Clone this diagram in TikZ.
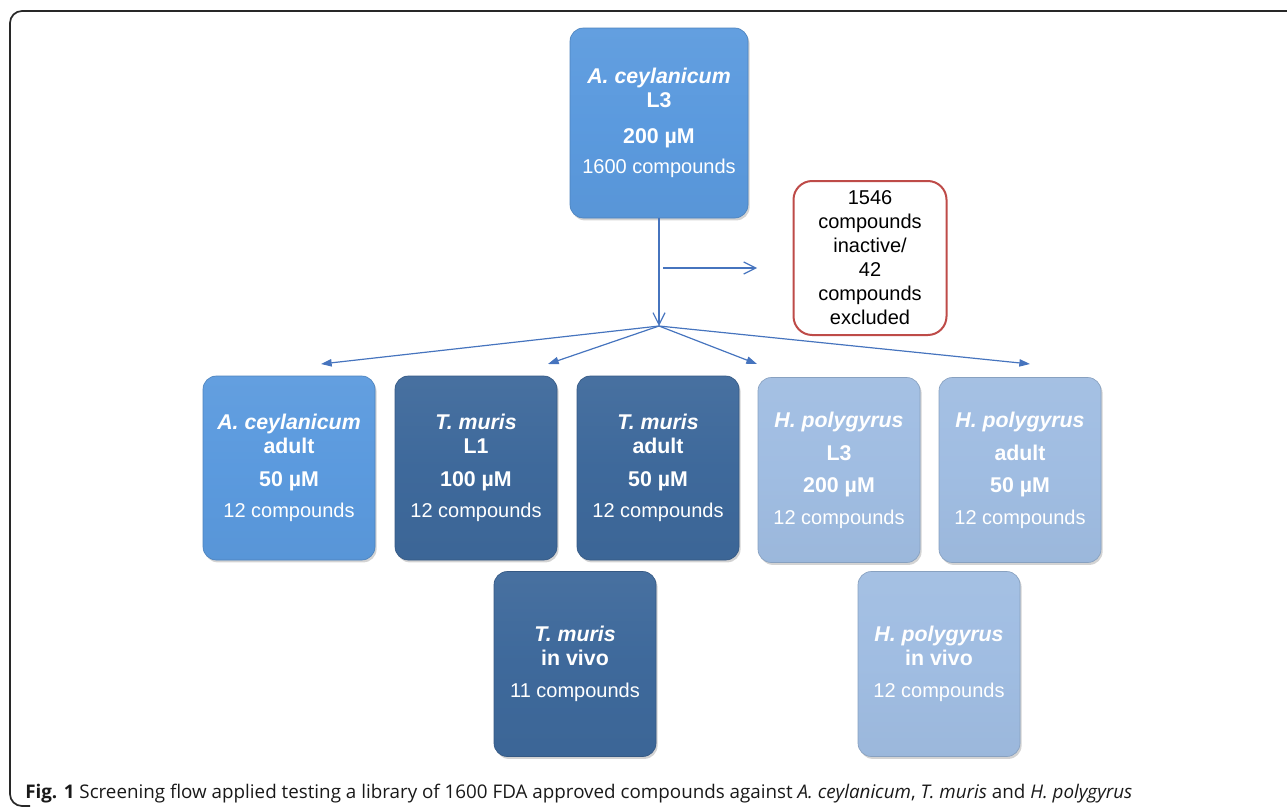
\documentclass[tikz,border=0pt]{standalone}
\usepackage{fontspec}
\setmainfont{Liberation Sans}
\newfontfamily\captionfont{Open Sans}
\usetikzlibrary{arrows.meta, shadows}

\definecolor{lightblue}{RGB}{91,154,222}
\definecolor{darkblue}{RGB}{62,105,155}
\definecolor{paleblue}{RGB}{160,189,226}
\definecolor{exclred}{RGB}{190,75,72}
\definecolor{arrowblue}{RGB}{70,116,190}
\definecolor{framegray}{RGB}{40,40,40}

\newcommand{\speciesname}[1]{{\fontsize{16}{18}\selectfont\bfseries\itshape #1}}
\newcommand{\stageline}[1]{{\fontsize{16}{18}\selectfont\bfseries #1}}

\begin{document}
\begin{tikzpicture}[
        x=0.75pt, y=-0.75pt,
        stagebox/.style={rounded corners=10pt, minimum width=121.5pt, minimum height=138.75pt, draw=#1!85!black, line width=0.5pt, top color=#1!95!white, bottom color=#1!97!black, middle color=#1, drop shadow={shadow xshift=1.2pt, shadow yshift=-1.8pt, opacity=0.35}, align=center, text=white, font=\fontsize{15}{18}\selectfont},
        exclbox/.style={draw=exclred, line width=1.5pt, rounded corners=14pt, fill=white, minimum width=114.75pt, minimum height=115.5pt, align=center, font=\fontsize{15}{18}\selectfont},
        flow/.style={draw=arrowblue, line width=0.9pt, -{Straight Barb[length=9pt,width=9pt]}},
        fan/.style={draw=arrowblue, line width=0.9pt, -{Triangle[length=8pt,width=5.5pt]}},
        frame/.style={draw=framegray, line width=1.3pt, rounded corners=9pt}
    ]
    \useasboundingbox (0,0) rectangle (1287,807);

    % ================= Frame and caption =================
    \draw[frame] (30,806) -- (10,806) -- (10,11) -- (1287,11);
    \node[anchor=base west, inner sep=0pt, text=black!90, font=\captionfont\fontsize{14.1}{16}\selectfont] (caption) at (25,798) {\textbf{Fig. 1} Screening flow applied testing a library of 1600 FDA approved compounds against \textit{A. ceylanicum}, \textit{T. muris} and \textit{H. polygyrus}};

    % ================= Primary screen =================
    \node[stagebox=lightblue, minimum width=133.5pt, minimum height=142.5pt] (acl3) at (659,123) {\speciesname{A. ceylanicum}\\ \stageline{L3}\\[9pt] \stageline{200 µM}\\[4.5pt] 1600 compounds};

    % Excluded compounds
    \node[exclbox] (excluded) at (870,258) {1546\\compounds\\inactive/\\42\\compounds\\excluded};

    % ================= Secondary screens =================
    \node[stagebox=lightblue, minimum width=129pt, minimum height=138pt] (acadult) at (289,468) {\speciesname{A. ceylanicum}\\ \stageline{adult}\\[6.75pt] \stageline{50 µM}\\[5.25pt] 12 compounds};

    \node[stagebox=darkblue, minimum height=138pt] (tml1) at (476,468) {\speciesname{T. muris}\\ \stageline{L1}\\[6.75pt] \stageline{100 µM}\\[5.25pt] 12 compounds};

    \node[stagebox=darkblue, minimum height=138pt] (tmadult) at (658,468) {\speciesname{T. muris}\\ \stageline{adult}\\[6.75pt] \stageline{50 µM}\\[5.25pt] 12 compounds};

    \node[stagebox=paleblue] (hpl3) at (839,470) {\speciesname{H. polygyrus}\\[6.75pt] \stageline{L3}\\[6pt] \stageline{200 µM}\\[6pt] 12 compounds};

    \node[stagebox=paleblue] (hpadult) at (1020,470) {\speciesname{H. polygyrus}\\[6.75pt] \stageline{adult}\\[6pt] \stageline{50 µM}\\[6pt] 12 compounds};

    % ================= In vivo =================
    \node[stagebox=darkblue] (tmvivo) at (575,664) {\speciesname{T. muris}\\ \stageline{in vivo}\\[6pt] 11 compounds};

    \node[stagebox=paleblue] (hpvivo) at (939,664) {\speciesname{H. polygyrus}\\ \stageline{in vivo}\\[6pt] 12 compounds};

    % ================= Arrows =================
    \coordinate (hub) at (659,326);
    \coordinate (side_start) at (663,268);
    \coordinate (side_end) at (757,268);
    \draw[flow] (acl3.south) -- (hub);
    \draw[flow] (side_start) -- (side_end);

    \coordinate (tip_acadult) at (321,364);
    \coordinate (tip_tml1) at (548,364);
    \coordinate (tip_hpl3) at (757,364);
    \coordinate (tip_hpadult) at (1030,364);
    \foreach \target in {tip_acadult, tip_tml1, tip_hpl3, tip_hpadult}
        \draw[fan] (hub) -- (\target);

\end{tikzpicture}
\end{document}
